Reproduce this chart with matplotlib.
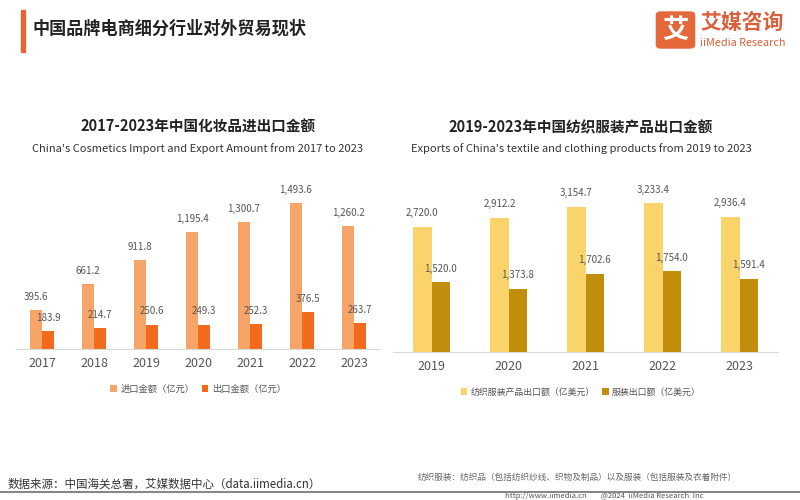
import matplotlib
matplotlib.use("Agg")
import matplotlib.pyplot as plt
from matplotlib.patches import FancyBboxPatch, Rectangle
import numpy as np

plt.rcParams['font.family'] = ['Noto Sans CJK SC', 'DejaVu Sans']

# ---- data ----
cos_years = ["2017", "2018", "2019", "2020", "2021", "2022", "2023"]
cos_import = [395.6, 661.2, 911.8, 1195.4, 1300.7, 1493.6, 1260.2]
cos_export = [183.9, 214.7, 250.6, 249.3, 252.3, 376.5, 263.7]

tex_years = ["2019", "2020", "2021", "2022", "2023"]
tex_total = [2720.0, 2912.2, 3154.7, 3233.4, 2936.4]
tex_apparel = [1520.0, 1373.8, 1702.6, 1754.0, 1591.4]

W, H = 800, 500
fig = plt.figure(figsize=(8, 5), dpi=100)
fig.patch.set_facecolor("white")

def fx(px):
    return px / W

def fy(py):
    return 1 - py / H

# header
fig.patches.append(Rectangle((fx(21), fy(52)), fx(4), 42 / H, transform=fig.transFigure,
                             color="#E8633A", zorder=5))
fig.text(fx(33), fy(29), "中国品牌电商细分行业对外贸易现状", fontsize=12.3, fontweight="bold",
         color="#222222", va="center", ha="left")

# logo
fig.patches.append(FancyBboxPatch((fx(658), fy(47)), fx(35), 34 / H,
                                  boxstyle="round,pad=0.002,rounding_size=0.006",
                                  transform=fig.transFigure, color="#E4683A", zorder=5))
fig.text(fx(675.5), fy(30), "艾", fontsize=19, fontweight="bold", color="white",
         ha="center", va="center", zorder=6)
fig.text(fx(700), fy(22), "艾媒咨询", fontsize=15, fontweight="bold", color="#D9603A",
         ha="left", va="center")
fig.text(fx(700), fy(43), "iiMedia Research", fontsize=7.8, color="#D9603A",
         ha="left", va="center")

def label_fmt(v):
    return f"{v:,.1f}"

def draw_chart(left_px, right_px, base_px, top_px, years, s1, s2, c1, c2, ymax, bw,
               title, subtitle, tcx, leg_labels, leg_y, leg_fs):
    ax = fig.add_axes([fx(left_px), fy(base_px), fx(right_px - left_px), (base_px - top_px) / H])
    x = np.arange(len(years))
    b1 = ax.bar(x - bw / 2, s1, width=bw, color=c1)
    b2 = ax.bar(x + bw / 2, s2, width=bw, color=c2)
    for xi, v in zip(x, s1):
        ax.annotate(label_fmt(v), (xi - bw / 2, v), xytext=(0, 6), textcoords="offset points",
                    ha="center", va="bottom", fontsize=7, color="#555555")
    for xi, v in zip(x, s2):
        ax.annotate(label_fmt(v), (xi + bw / 2, v), xytext=(0, 6), textcoords="offset points",
                    ha="center", va="bottom", fontsize=7, color="#555555")
    ax.set_xlim(-0.5, len(years) - 0.5)
    ax.set_ylim(0, ymax)
    ax.set_xticks(x)
    ax.set_xticklabels(years, fontsize=9, color="#555555")
    ax.tick_params(axis="x", length=0, pad=6)
    ax.set_yticks([])
    for s in ["top", "right", "left"]:
        ax.spines[s].set_visible(False)
    ax.spines["bottom"].set_color("#D9D9D9")
    ax.set_facecolor("none")
    fig.text(fx(tcx), fy(127), title, fontsize=10.5, fontweight="bold", color="#222222",
             ha="center", va="center")
    fig.text(fx(tcx), fy(149), subtitle, fontsize=8, color="#333333",
             ha="center", va="center")
    fig.legend([b1, b2], leg_labels, loc="center", bbox_to_anchor=(fx(tcx), fy(leg_y)),
               ncol=2, frameon=False, fontsize=leg_fs, handlelength=0.7, handleheight=0.7,
               handletextpad=0.4, columnspacing=0.8, labelcolor="#555555")
    return ax

draw_chart(16, 380, 349, 190, cos_years, cos_import, cos_export, "#F7A468", "#F26A1B",
           159 / 0.0977, 0.23,
           "2017-2023年中国化妆品进出口金额",
           "China's Cosmetics Import and Export Amount from 2017 to 2023", 198,
           ["进口金额（亿元）", "出口金额（亿元）"], 389, 6.7)

draw_chart(393, 778, 352, 190, tex_years, tex_total, tex_apparel, "#FAD46A", "#C18E0C",
           162 / 0.0461, 0.235,
           "2019-2023年中国纺织服装产品出口金额",
           "Exports of China's textile and clothing products from 2019 to 2023", 581,
           ["纺织服装产品出口额（亿美元）", "服装出口额（亿美元）"], 392, 6.4)

# footer
fig.text(fx(8), fy(484), "数据来源：中国海关总署，艾媒数据中心（data.iimedia.cn）", fontsize=8.3,
         color="#333333", ha="left", va="center")
fig.text(fx(418), fy(477), "纺织服装：纺织品（包括纺织纱线、织物及制品）以及服装（包括服装及衣着附件）",
         fontsize=6.2, color="#666666", ha="left", va="center")
fig.lines.append(plt.Line2D([0, 1], [fy(492), fy(492)], transform=fig.transFigure,
                            color="#888888", linewidth=1.5))
fig.text(fx(505), fy(496.5), "http://www.iimedia.cn        @2024  iiMedia Research  Inc",
         fontsize=5.5, color="#555555", ha="left", va="center")

fig.savefig("out.png", dpi=100, facecolor="white")
